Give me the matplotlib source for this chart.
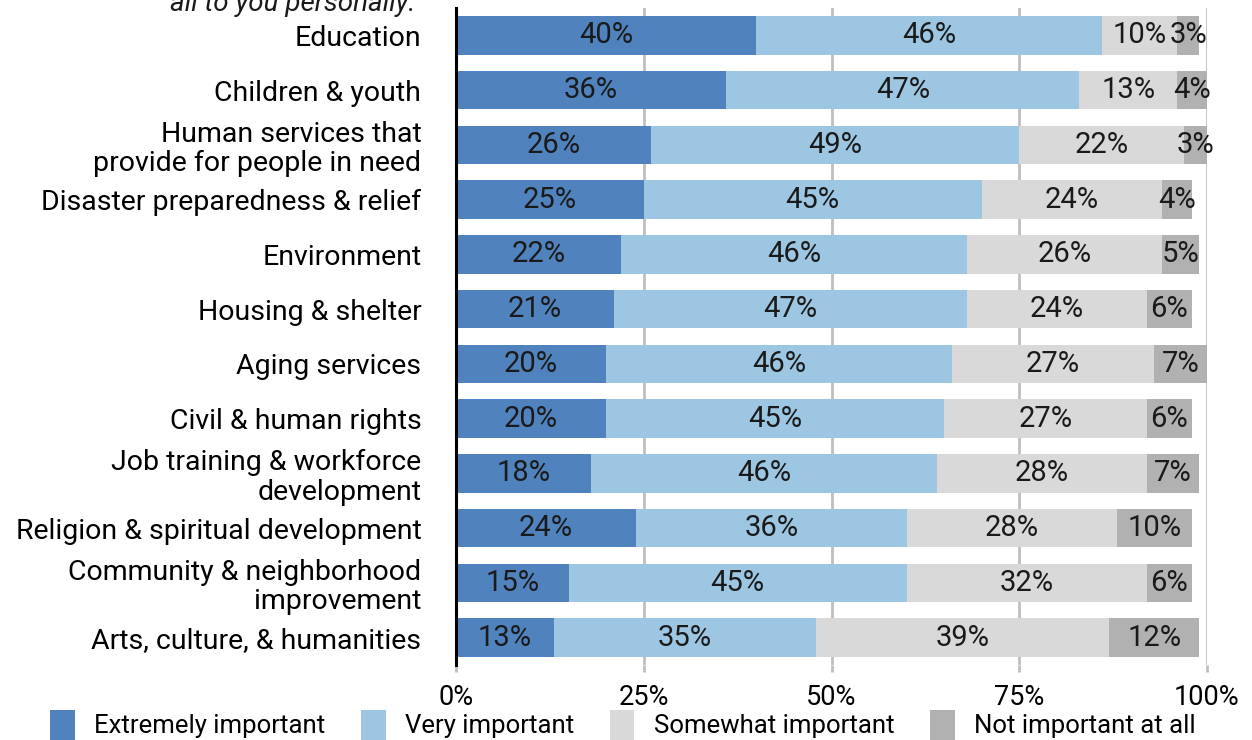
import matplotlib
matplotlib.use("Agg")
import matplotlib.pyplot as plt
import numpy as np

categories = [
    "Education",
    "Children & youth",
    "Human services that\nprovide for people in need",
    "Disaster preparedness & relief",
    "Environment",
    "Housing & shelter",
    "Aging services",
    "Civil & human rights",
    "Job training & workforce\ndevelopment",
    "Religion & spiritual development",
    "Community & neighborhood\nimprovement",
    "Arts, culture, & humanities",
]
extremely = [40, 36, 26, 25, 22, 21, 20, 20, 18, 24, 15, 13]
very = [46, 47, 49, 45, 46, 47, 46, 45, 46, 36, 45, 35]
somewhat = [10, 13, 22, 24, 26, 24, 27, 27, 28, 28, 32, 39]
not_at_all = [3, 4, 3, 4, 5, 6, 7, 6, 7, 10, 6, 12]
series_names = ["Extremely important", "Very important", "Somewhat important", "Not important at all"]
colors = ["#5083BE", "#9DC6E3", "#D9D9D9", "#B1B1B1"]
x_ticks = [0, 25, 50, 75, 100]
x_ticklabels = ["0%", "25%", "50%", "75%", "100%"]

plt.rcParams['font.family'] = ['Roboto', 'DejaVu Sans']

fig = plt.figure(figsize=(12.52, 7.4), dpi=100)
ax = fig.add_axes([456/1252, 1 - 665/740, (1207-456)/1252, (665-8)/740])

y = np.arange(len(categories))
left = np.zeros(len(categories))
for vals, name, c in zip([extremely, very, somewhat, not_at_all], series_names, colors):
    vals = np.array(vals, dtype=float)
    ax.barh(y, vals, left=left, height=0.7, color=c, label=name, zorder=3)
    for yi, l, v in zip(y, left, vals):
        ax.text(l + v / 2, yi, f"{int(v)}%", ha="center", va="center",
                fontsize=21, color="#1a1a1a", zorder=4)
    left += vals

ax.set_ylim(len(categories) - 0.5, -0.5)
ax.set_xlim(0, 100)
ax.set_yticks(y)
ax.set_yticklabels(categories, fontsize=20.5, linespacing=1.12)
ax.set_xticks(x_ticks)
ax.set_xticklabels(x_ticklabels, fontsize=19.5)
ax.tick_params(axis="y", length=0, pad=25)
ax.tick_params(axis="x", length=5, width=2, color="#BFBFBF", pad=9)
ax.xaxis.get_major_ticks()[0].tick1line.set_color("black")

for s in ["top", "right", "bottom"]:
    ax.spines[s].set_visible(False)
ax.spines["left"].set_linewidth(2.2)
ax.spines["left"].set_color("black")
ax.spines["left"].set_zorder(5)

ax.xaxis.grid(True, color="#BFBFBF", linewidth=2, zorder=0)
ax.set_axisbelow(True)

fig.text(415/1252, 1 - 11/740, "all to you personally.", ha="right", va="baseline",
         fontsize=20, style="italic", color="#1a1a1a")

fig.legend(loc="lower left", bbox_to_anchor=(40/1252, -0.014), ncol=4, frameon=False,
           fontsize=18.5, handlelength=0.95, handleheight=1.45, handletextpad=0.75,
           columnspacing=1.4, borderaxespad=0)

fig.savefig("out.png", dpi=100)
